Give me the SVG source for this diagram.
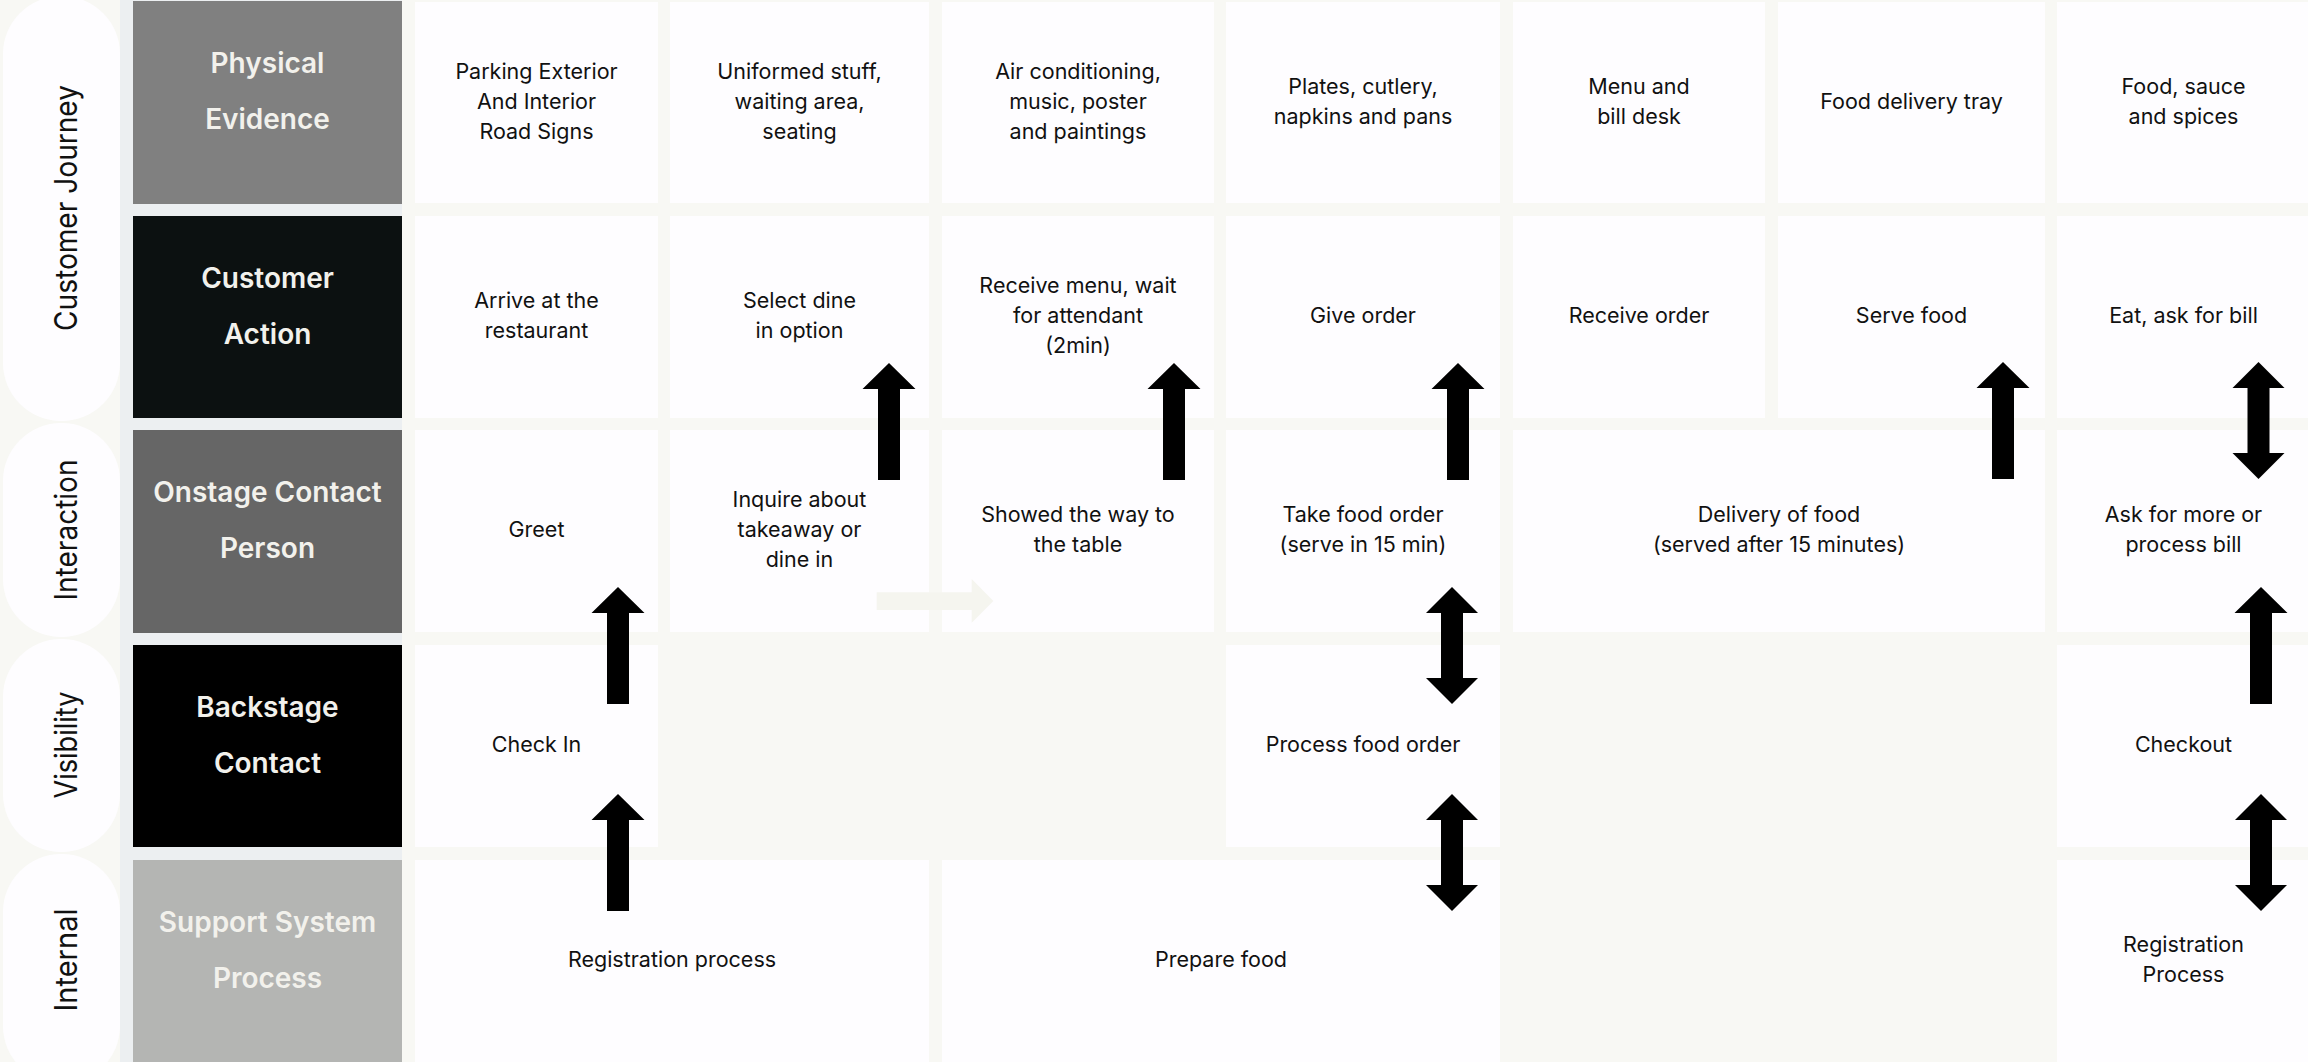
<svg xmlns="http://www.w3.org/2000/svg" width="2308" height="1062" viewBox="0 0 2308 1062">
  <defs>
    <style>
      .bg { fill: #F8F8F4; }
      .pill { fill: #FEFDFF; }
      .pill-label { font-family: Inter, "Noto Sans", sans-serif; font-size: 31px; fill: #111111; text-anchor: middle; }
      .lane { fill: #ECEFF1; }
      .hdr-label { font-family: Inter, "Noto Sans", sans-serif; font-size: 28px; font-weight: 600; fill: #F2F1EC; text-anchor: middle; }
      .cell { fill: #FEFDFF; }
      .cell-label { font-family: Inter, "Noto Sans", sans-serif; font-size: 21.5px; fill: #111111; text-anchor: middle; }
      .arrow { fill: #000000; }
      .ghost-arrow { fill: #F5F5EF; }
    </style>
    <!-- block arrow, tip at origin, pointing up -->
    <polygon id="up-arrow" points="0,0 26.5,26 11,26 11,117 -11,117 -11,26 -26.5,26"/>
    <!-- double-headed block arrow, top tip at origin -->
    <polygon id="dbl-arrow" points="0,0 26,26 11,26 11,91 26,91 0,117 -26,91 -11,91 -11,26 -26,26"/>
  </defs>

  <rect class="bg" x="0" y="0" width="2308" height="1062"/>

  <!-- level pills on the far left -->
  <g id="level-customer-journey">
    <rect class="pill" x="3" y="-4" width="117" height="425" rx="58" ry="58"/>
    <text class="pill-label" transform="translate(77,208) rotate(-90)" textLength="246" lengthAdjust="spacingAndGlyphs">Customer Journey</text>
  </g>
  <g id="level-interaction">
    <rect class="pill" x="3" y="423" width="117" height="214" rx="58" ry="58"/>
    <text class="pill-label" transform="translate(77,530) rotate(-90)" textLength="141" lengthAdjust="spacingAndGlyphs">Interaction</text>
  </g>
  <g id="level-visibility">
    <rect class="pill" x="3" y="639" width="117" height="213" rx="58" ry="58"/>
    <text class="pill-label" transform="translate(77,745) rotate(-90)" textLength="107" lengthAdjust="spacingAndGlyphs">Visibility</text>
  </g>
  <g id="level-internal">
    <rect class="pill" x="3" y="854" width="117" height="230" rx="58" ry="58"/>
    <text class="pill-label" transform="translate(77,960) rotate(-90)" textLength="103" lengthAdjust="spacingAndGlyphs">Internal</text>
  </g>

  <!-- lane header column -->
  <rect class="lane" x="120" y="0" width="282" height="1062"/>
  <g id="hdr-physical-evidence">
    <rect x="133" y="1" width="269" height="203" fill="#808080"/>
    <text class="hdr-label" x="267.5" y="73">Physical</text>
    <text class="hdr-label" x="267.5" y="129">Evidence</text>
  </g>
  <g id="hdr-customer-action">
    <rect x="133" y="216" width="269" height="202" fill="#0C1111"/>
    <text class="hdr-label" x="267.5" y="288">Customer</text>
    <text class="hdr-label" x="267.5" y="344">Action</text>
  </g>
  <g id="hdr-onstage">
    <rect x="133" y="430" width="269" height="203" fill="#666666"/>
    <text class="hdr-label" x="267.5" y="502">Onstage Contact</text>
    <text class="hdr-label" x="267.5" y="558">Person</text>
  </g>
  <g id="hdr-backstage">
    <rect x="133" y="645" width="269" height="202" fill="#000000"/>
    <text class="hdr-label" x="267.5" y="717">Backstage</text>
    <text class="hdr-label" x="267.5" y="773">Contact</text>
  </g>
  <g id="hdr-support">
    <rect x="133" y="860" width="269" height="210" fill="#B4B5B3"/>
    <text class="hdr-label" x="267.5" y="932" fill="#F0F0F0">Support System</text>
    <text class="hdr-label" x="267.5" y="988" fill="#F0F0F0">Process</text>
  </g>

  <!-- row 1: physical evidence -->
  <g id="pe-parking">
    <rect class="cell" x="415" y="2" width="243" height="201"/>
    <text class="cell-label" x="536.5" y="78.5">Parking Exterior</text>
    <text class="cell-label" x="536.5" y="108.5">And Interior</text>
    <text class="cell-label" x="536.5" y="138.5">Road Signs</text>
  </g>
  <g id="pe-uniforms">
    <rect class="cell" x="670" y="2" width="259" height="201"/>
    <text class="cell-label" x="799.5" y="78.5">Uniformed stuff,</text>
    <text class="cell-label" x="799.5" y="108.5">waiting area,</text>
    <text class="cell-label" x="799.5" y="138.5">seating</text>
  </g>
  <g id="pe-ambience">
    <rect class="cell" x="942" y="2" width="272" height="201"/>
    <text class="cell-label" x="1078" y="78.5">Air conditioning,</text>
    <text class="cell-label" x="1078" y="108.5">music, poster</text>
    <text class="cell-label" x="1078" y="138.5">and paintings</text>
  </g>
  <g id="pe-tableware">
    <rect class="cell" x="1226" y="2" width="274" height="201"/>
    <text class="cell-label" x="1363" y="93.5">Plates, cutlery,</text>
    <text class="cell-label" x="1363" y="123.5">napkins and pans</text>
  </g>
  <g id="pe-menu">
    <rect class="cell" x="1513" y="2" width="252" height="201"/>
    <text class="cell-label" x="1639" y="93.5">Menu and</text>
    <text class="cell-label" x="1639" y="123.5">bill desk</text>
  </g>
  <g id="pe-tray">
    <rect class="cell" x="1778" y="2" width="267" height="201"/>
    <text class="cell-label" x="1911.5" y="108.5">Food delivery tray</text>
  </g>
  <g id="pe-food">
    <rect class="cell" x="2057" y="2" width="263" height="201"/>
    <text class="cell-label" x="2183.5" y="93.5">Food, sauce</text>
    <text class="cell-label" x="2183.5" y="123.5">and spices</text>
  </g>

  <!-- row 2: customer actions -->
  <g id="ca-arrive">
    <rect class="cell" x="415" y="216" width="243" height="202"/>
    <text class="cell-label" x="536.5" y="308">Arrive at the</text>
    <text class="cell-label" x="536.5" y="338">restaurant</text>
  </g>
  <g id="ca-select">
    <rect class="cell" x="670" y="216" width="259" height="202"/>
    <text class="cell-label" x="799.5" y="308">Select dine</text>
    <text class="cell-label" x="799.5" y="338">in option</text>
  </g>
  <g id="ca-menu">
    <rect class="cell" x="942" y="216" width="272" height="202"/>
    <text class="cell-label" x="1078" y="293">Receive menu, wait</text>
    <text class="cell-label" x="1078" y="323">for attendant</text>
    <text class="cell-label" x="1078" y="353">(2min)</text>
  </g>
  <g id="ca-give-order">
    <rect class="cell" x="1226" y="216" width="274" height="202"/>
    <text class="cell-label" x="1363" y="323">Give order</text>
  </g>
  <g id="ca-receive-order">
    <rect class="cell" x="1513" y="216" width="252" height="202"/>
    <text class="cell-label" x="1639" y="323">Receive order</text>
  </g>
  <g id="ca-serve">
    <rect class="cell" x="1778" y="216" width="267" height="202"/>
    <text class="cell-label" x="1911.5" y="323">Serve food</text>
  </g>
  <g id="ca-eat">
    <rect class="cell" x="2057" y="216" width="263" height="202"/>
    <text class="cell-label" x="2183.5" y="323">Eat, ask for bill</text>
  </g>

  <!-- row 3: onstage contact -->
  <g id="on-greet">
    <rect class="cell" x="415" y="430" width="243" height="202"/>
    <text class="cell-label" x="536.5" y="537">Greet</text>
  </g>
  <g id="on-inquire">
    <rect class="cell" x="670" y="430" width="259" height="202"/>
    <text class="cell-label" x="799.5" y="507">Inquire about</text>
    <text class="cell-label" x="799.5" y="537">takeaway or</text>
    <text class="cell-label" x="799.5" y="567">dine in</text>
  </g>
  <g id="on-show-table">
    <rect class="cell" x="942" y="430" width="272" height="202"/>
    <text class="cell-label" x="1078" y="522">Showed the way to</text>
    <text class="cell-label" x="1078" y="552">the table</text>
  </g>
  <g id="on-take-order">
    <rect class="cell" x="1226" y="430" width="274" height="202"/>
    <text class="cell-label" x="1363" y="522">Take food order</text>
    <text class="cell-label" x="1363" y="552">(serve in 15 min)</text>
  </g>
  <g id="on-delivery">
    <rect class="cell" x="1513" y="430" width="532" height="202"/>
    <text class="cell-label" x="1779" y="522">Delivery of food</text>
    <text class="cell-label" x="1779" y="552">(served after 15 minutes)</text>
  </g>
  <g id="on-ask-more">
    <rect class="cell" x="2057" y="430" width="263" height="202"/>
    <text class="cell-label" x="2183.5" y="522">Ask for more or</text>
    <text class="cell-label" x="2183.5" y="552">process bill</text>
  </g>

  <!-- row 4: backstage contact -->
  <g id="bk-check-in">
    <rect class="cell" x="415" y="645" width="243" height="202"/>
    <text class="cell-label" x="536.5" y="752">Check In</text>
  </g>
  <g id="bk-process-order">
    <rect class="cell" x="1226" y="645" width="274" height="202"/>
    <text class="cell-label" x="1363" y="752">Process food order</text>
  </g>
  <g id="bk-checkout">
    <rect class="cell" x="2057" y="645" width="263" height="202"/>
    <text class="cell-label" x="2183.5" y="752">Checkout</text>
  </g>

  <!-- row 5: support processes -->
  <g id="sp-registration">
    <rect class="cell" x="415" y="860" width="514" height="210"/>
    <text class="cell-label" x="672" y="967">Registration process</text>
  </g>
  <g id="sp-prepare">
    <rect class="cell" x="942" y="860" width="558" height="210"/>
    <text class="cell-label" x="1221" y="967">Prepare food</text>
  </g>
  <g id="sp-registration-2">
    <rect class="cell" x="2057" y="860" width="263" height="210"/>
    <text class="cell-label" x="2183.5" y="952">Registration</text>
    <text class="cell-label" x="2183.5" y="982">Process</text>
  </g>

  <!-- connectors -->
  <g id="connectors">
    <polygon class="ghost-arrow" points="876.7,592.3 971.7,592.3 971.7,579 993.3,601 971.7,622.7 971.7,610 876.7,610"/>
    <use href="#up-arrow" class="arrow" x="889" y="363"/>
    <use href="#up-arrow" class="arrow" x="1174" y="363"/>
    <use href="#up-arrow" class="arrow" x="1458" y="363"/>
    <use href="#up-arrow" class="arrow" x="2003" y="362"/>
    <use href="#dbl-arrow" class="arrow" x="2258.5" y="362"/>
    <use href="#up-arrow" class="arrow" x="618" y="587"/>
    <use href="#up-arrow" class="arrow" x="618" y="794"/>
    <use href="#dbl-arrow" class="arrow" x="1452" y="587"/>
    <use href="#dbl-arrow" class="arrow" x="1452" y="794"/>
    <use href="#up-arrow" class="arrow" x="2261" y="587"/>
    <use href="#dbl-arrow" class="arrow" x="2261" y="794"/>
  </g>
</svg>
